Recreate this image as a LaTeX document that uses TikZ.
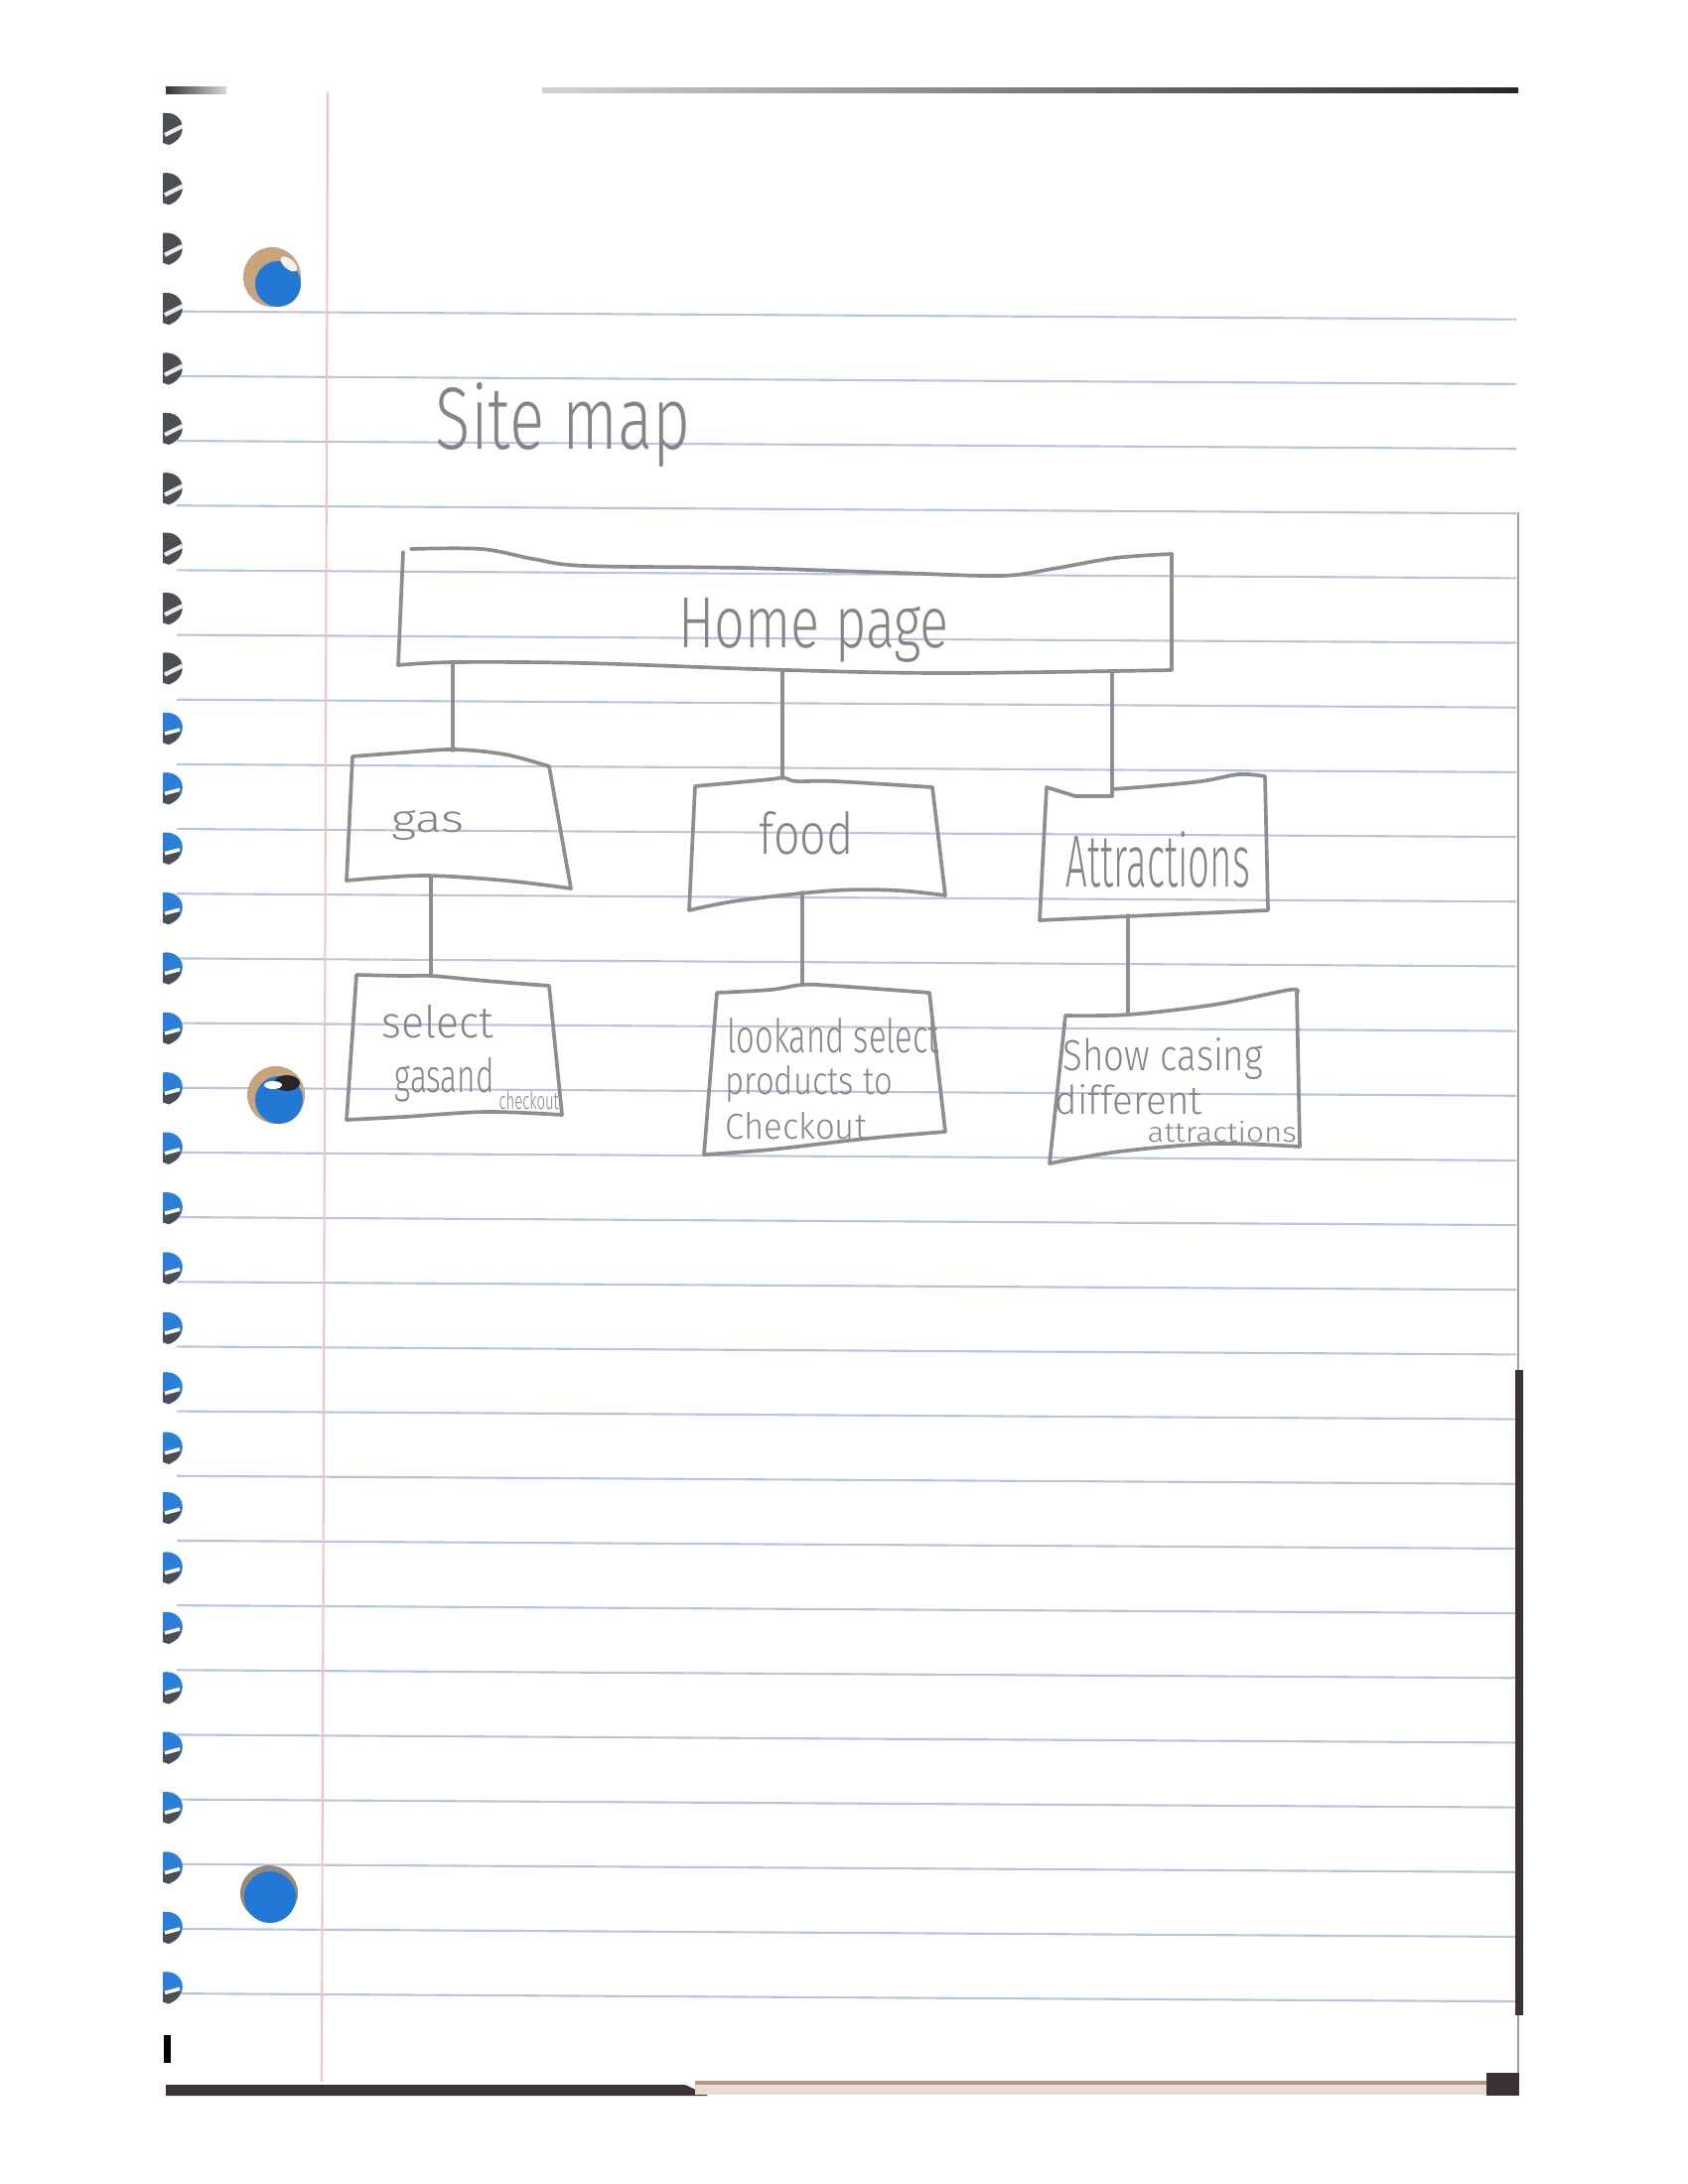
\documentclass[tikz,border=0pt]{standalone}
\usepackage{fontspec}
\usepackage{graphicx}
\newfontfamily\hand{Fira Sans}[UprightFont=* Light]

\definecolor{pencil}{HTML}{8E8E8E}
\definecolor{pencilText}{HTML}{858585}
\definecolor{ruleBlue}{HTML}{B7C5DE}
\definecolor{marginRed}{HTML}{EFC6C6}
\definecolor{holeBlue}{HTML}{2378D6}
\definecolor{holeTan}{HTML}{C7A47C}
\definecolor{coilGray}{HTML}{4B4E53}
\definecolor{coilBlue}{HTML}{2C7FD8}
\definecolor{edgeDark}{HTML}{3A3234}
\definecolor{edgeBeige}{HTML}{E6DCD0}
\definecolor{edgeBrown}{HTML}{B59585}

\begin{document}
% one unit = one pixel of a 1700 x 2200 sheet, y running downwards
\begin{tikzpicture}[x=0.01cm,y=-0.01cm,
  pencilline/.style={draw=pencil,line width=1.05pt,line join=round,line cap=round},
  link/.style={draw=pencil,line width=1.05pt,line cap=round},
  hand/.style={inner sep=0pt,anchor=base west,text=pencilText}]

\useasboundingbox (0,0) rectangle (1700,2200);
\fill[white] (0,0) rectangle (1700,2200);

% ---------- notebook sheet ----------
% ruled lines
\foreach \k in {0,...,26}{
  \pgfmathsetmacro\yr{321.7+65.17*\k}
  \draw[ruleBlue,line width=0.6pt] (178,\yr-8) -- (1527,\yr);
}
% margin line
\draw[marginRed,line width=0.6pt] (330,93) -- (324,2097);

% top edge
\shade[left color=gray!35,right color=black!85] (546,89) rectangle (1529,94);
\shade[left color=black!80,right color=gray!30] (167,88) rectangle (228,95);
% right edge
\draw[gray!75,line width=0.7pt] (1529,516) -- (1529,2095);
\draw[edgeDark,line width=2.2pt] (1530,1380) -- (1530,2030);
% bottom edge
\fill[edgeDark] (167,2100) -- (690,2100) -- (713,2111) -- (167,2111) -- cycle;
\fill[edgeBeige] (700,2097) rectangle (1497,2110);
\draw[edgeBrown,line width=1.4pt] (700,2098) -- (1497,2098);
\fill[edgeDark] (1497,2088) rectangle (1530,2111);

% spiral binding
\foreach \k in {0,...,9}{
  \pgfmathsetmacro\yc{130+60.4*\k}
  \fill[coilGray] (164,\yc-16) .. controls (186,\yc-19) and (192,\yc+8) .. (170,\yc+16) -- (164,\yc+14) -- cycle;
  \draw[white!85!gray,line width=1.2pt] (166,\yc+6) -- (184,\yc-3);
}
\foreach \k in {10,...,31}{
  \pgfmathsetmacro\yc{130+60.4*\k}
  \fill[coilBlue] (164,\yc-16) .. controls (186,\yc-19) and (192,\yc+8) .. (170,\yc+16) -- (164,\yc+14) -- cycle;
  \fill[coilGray] (164,\yc+4) -- (182,\yc+2) .. controls (180,\yc+10) .. (170,\yc+16) -- (164,\yc+14) -- cycle;
  \draw[white,line width=1pt] (166,\yc+5) -- (181,\yc+1);
}
\fill[black] (165,2050) rectangle (172,2078);

% punched holes
\fill[holeTan] (274,279) ellipse (29 and 30);
\fill[holeBlue] (280,286) circle (23);
\fill[white!88!gray,rotate around={-40:(291,266)}] (291,266) ellipse (10 and 5);

\fill[holeTan] (278,1103) ellipse (29 and 29);
\fill[holeBlue] (281,1108) circle (24);
\fill[black!85] (289,1091) ellipse (13 and 8);
\fill[white] (275,1093) ellipse (9 and 4);

\fill[gray!70!holeTan] (271,1907) ellipse (29 and 28);
\fill[holeBlue] (272,1911) circle (26);

% ---------- site map ----------
\node[hand] (title) at (438,452) {\resizebox{2.57cm}{0.67cm}{\hand Site map}};

% boxes
\draw[pencilline] plot[smooth,tension=0.55] coordinates {(414,553) (485,553) (537,563) (589,570) (746,572) (903,577) (1008,580) (1060,573) (1123,562) (1180,558)}
  -- plot[smooth,tension=0.55] coordinates {(1180,675) (955,678) (793,675) (589,668) (458,667) (401,670)} -- (406,556);

\draw[pencilline] plot[smooth,tension=0.55] coordinates {(355,762) (407,758) (458,755) (509,760) (553,772)}
  -- plot[smooth,tension=0.55] coordinates {(575,895) (509,887) (426,882) (349,887)} -- cycle;

\draw[pencilline] plot[smooth,tension=0.55] coordinates {(700,792) (776,785) (788,783) (802,787) (840,787) (939,793)}
  -- plot[smooth,tension=0.55] coordinates {(952,902) (904,897) (840,897) (745,907) (694,917)} -- cycle;

\draw[pencilline] plot[smooth,tension=0.55] coordinates {(1120,795) (1159,792) (1210,787) (1248,780) (1274,782)}
  -- plot[smooth,tension=0.55] coordinates {(1277,917) (1159,922) (1047,927)} -- (1054,793) -- (1083,802) -- (1120,802);

\draw[pencilline] plot[smooth,tension=0.55] coordinates {(359,982) (407,983) (435,983) (489,988) (553,993)}
  -- plot[smooth,tension=0.55] coordinates {(566,1123) (489,1120) (407,1125) (349,1128)} -- cycle;

\draw[pencilline] plot[smooth,tension=0.55] coordinates {(722,1000) (776,997) (808,992) (840,993) (936,1000)}
  -- plot[smooth,tension=0.55] coordinates {(952,1140) (872,1147) (776,1158) (709,1163)} -- cycle;

\draw[pencilline] plot[smooth,tension=0.55] coordinates {(1073,1023) (1137,1022) (1223,1012) (1299,997) (1306,1000)}
  -- plot[smooth,tension=0.55] coordinates {(1309,1155) (1223,1152) (1127,1160) (1057,1172)} -- cycle;

% labels
\node[hand] (home) at (683,652) {\resizebox{2.72cm}{0.50cm}{\hand Home page}};
\node[hand] (gas) at (394,838) {\resizebox{0.73cm}{0.22cm}{\hand gas}};
\node[hand] (food) at (764,860) {\resizebox{0.95cm}{0.43cm}{\hand food}};
\node[hand] (attr) at (1073,893) {\resizebox{1.85cm}{0.56cm}{\hand Attractions}};

\node[hand] (sel1) at (384,1045) {\resizebox{1.12cm}{0.33cm}{\hand select}};
\node[hand] (sel2) at (397,1100) {\resizebox{1.00cm}{0.35cm}{\hand gasand}};
\node[hand] (sel3) at (502,1117) {\resizebox{0.60cm}{0.18cm}{\hand checkout}};

\node[hand] (look1) at (732,1060) {\resizebox{2.13cm}{0.35cm}{\hand lookand select}};
\node[hand] (look2) at (730,1102) {\resizebox{1.68cm}{0.29cm}{\hand products to}};
\node[hand] (look3) at (730,1147) {\resizebox{1.42cm}{0.27cm}{\hand Checkout}};

\node[hand] (show1) at (1070,1078) {\resizebox{2.01cm}{0.33cm}{\hand Show casing}};
\node[hand] (show2) at (1062,1122) {\resizebox{1.48cm}{0.30cm}{\hand different}};
\node[hand] (show3) at (1155,1150) {\resizebox{1.50cm}{0.21cm}{\hand attractions}};

% connector ends on the boxes
\coordinate (home-gas) at (456,668);
\coordinate (home-food) at (788,675);
\coordinate (home-attr) at (1120,676);
\coordinate (gas-top) at (456,756);
\coordinate (food-top) at (788,784);
\coordinate (attr-top) at (1120,802);
\coordinate (gas-bot) at (434,884);
\coordinate (food-bot) at (808,899);
\coordinate (attr-bot) at (1136,922);
\coordinate (sel-top) at (434,983);
\coordinate (look-top) at (808,992);
\coordinate (show-top) at (1136,1022);

\draw[link] (home-gas) -- (gas-top);
\draw[link] (home-food) -- (food-top);
\draw[link] (home-attr) -- (attr-top);
\draw[link] (gas-bot) -- (sel-top);
\draw[link] (food-bot) -- (look-top);
\draw[link] (attr-bot) -- (show-top);
\end{tikzpicture}
\end{document}
